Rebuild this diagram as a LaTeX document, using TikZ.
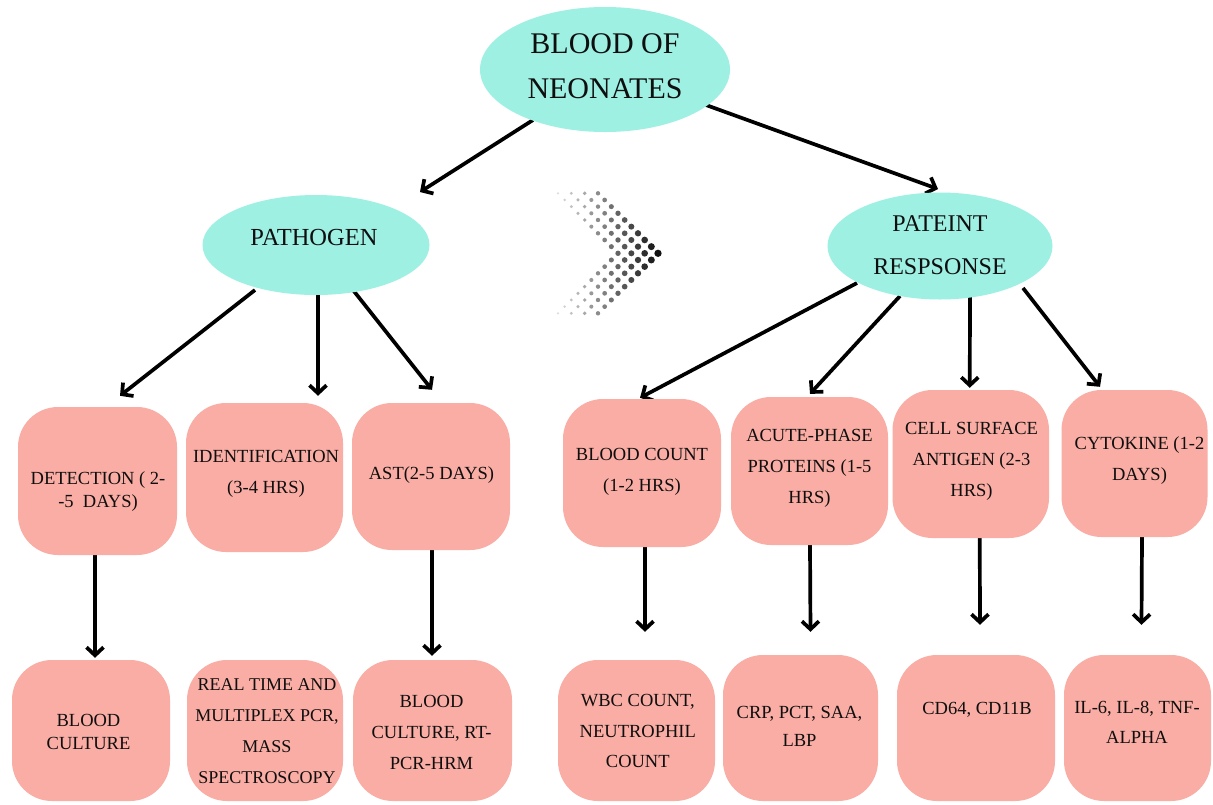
\documentclass[tikz,border=0pt]{standalone}
\usepackage{fontspec}
\setmainfont{Liberation Serif}
\usetikzlibrary{shapes.geometric,arrows.meta}
\definecolor{cyanfill}{RGB}{158,240,227}
\definecolor{pinkfill}{RGB}{249,173,164}
\definecolor{txtcol}{RGB}{15,15,15}
\pgfdeclarelayer{bgfill}
\pgfdeclarelayer{background}
\pgfsetlayers{bgfill,background,main}
\tikzset{
  ell/.style={ellipse, fill=cyanfill, draw=none, inner sep=0pt},
  rbox/.style={rectangle, fill=pinkfill, draw=none, rounded corners=40pt, inner sep=0pt},
  lbl/.style={align=center, text=txtcol, inner sep=0pt, font=\fontsize{18.5}{31}\selectfont},
  arr/.style={line width=3.7pt, draw=black, -{Straight Barb[length=8pt,width=17pt]}},
}
\begin{document}
\begin{tikzpicture}[x=1pt,y=-1pt]
\begin{pgfonlayer}{bgfill}
\fill[white] (0,0) rectangle (1213,804);
\end{pgfonlayer}
\path[use as bounding box] (0,0) rectangle (1213,804);

% ellipses
\node[ell, minimum width=250pt, minimum height=125pt] (top) at (605,69.5) {};
\node[lbl, font=\fontsize{30}{45}\selectfont] (top-t) at (605,66.5) {BLOOD OF\\NEONATES};
\node[ell, minimum width=227pt, minimum height=100pt] (path) at (316,245) {};
\node[lbl, font=\fontsize{24.5}{30}\selectfont] (path-t) at (314,237.5) {PATHOGEN};
\node[ell, minimum width=225pt, minimum height=107pt] (pat) at (940,246) {};
\node[lbl, font=\fontsize{24}{43}\selectfont] (pat-t) at (940,245) {PATEINT\\RESPSONSE};

% first row boxes
\node[rbox, minimum width=159pt, minimum height=148pt] (det) at (97.5,481) {};
\node[lbl, font=\fontsize{18.5}{23}\selectfont] (det-t) at (98,491.5) {DETECTION ( 2-\\-5\ \ DAYS)};
\node[rbox, minimum width=157pt, minimum height=149pt] (ide) at (264.5,477.5) {};
\node[lbl] (ide-t) at (266,474) {IDENTIFICATION\\(3-4 HRS)};
\node[rbox, minimum width=158pt, minimum height=147pt] (ast) at (431,476.5) {};
\node[lbl] (ast-t) at (431.5,475) {AST(2-5 DAYS)};
\node[rbox, minimum width=158pt, minimum height=148pt] (bc) at (642,473) {};
\node[lbl] (bc-t) at (642,472) {BLOOD COUNT\\(1-2 HRS)};
\node[rbox, minimum width=157pt, minimum height=148pt] (acu) at (809.5,471) {};
\node[lbl] (acu-t) at (809.5,468.5) {ACUTE-PHASE\\PROTEINS (1-5\\HRS)};
\node[rbox, minimum width=156.5pt, minimum height=148pt] (cell) at (970.75,464) {};
\node[lbl] (cell-t) at (971.5,461.5) {CELL SURFACE\\ANTIGEN (2-3\\HRS)};
\node[rbox, minimum width=146pt, minimum height=147pt] (cyt) at (1134.5,463.5) {};
\node[lbl] (cyt-t) at (1139.5,461) {CYTOKINE (1-2\\DAYS)};

% second row boxes
\node[rbox, minimum width=158pt, minimum height=141pt] (bcul) at (91,730.5) {};
\node[lbl, font=\fontsize{18.5}{23}\selectfont] (bcul-t) at (88.5,731.5) {BLOOD\\CULTURE};
\node[rbox, minimum width=156pt, minimum height=141pt] (rt) at (265,730.5) {};
\node[lbl, font=\fontsize{18}{31}\selectfont] (rt-t) at (267,731) {REAL TIME AND\\MULTIPLEX PCR,\\MASS\\SPECTROSCOPY};
\node[rbox, minimum width=159pt, minimum height=141pt] (bcr) at (432.5,730.5) {};
\node[lbl] (bcr-t) at (431.5,732) {BLOOD\\CULTURE, RT-\\PCR-HRM};
\node[rbox, minimum width=157pt, minimum height=141pt] (wbc) at (636.5,730.5) {};
\node[lbl, font=\fontsize{18.5}{30.5}\selectfont] (wbc-t) at (637.8,731) {WBC COUNT,\\NEUTROPHIL\\COUNT};
\node[rbox, minimum width=155pt, minimum height=146pt] (crp) at (800.5,728) {};
\node[lbl, font=\fontsize{18.5}{28}\selectfont] (crp-t) at (799.5,726) {CRP, PCT, SAA,\\LBP};
\node[rbox, minimum width=158pt, minimum height=146pt] (cd64) at (976,728) {};
\node[lbl] (cd64-t) at (977,710) {CD64, CD11B};
\node[rbox, minimum width=147pt, minimum height=146pt] (il6) at (1137.5,728) {};
\node[lbl, font=\fontsize{18.5}{30}\selectfont] (il6-t) at (1137,722) {IL-6, IL-8, TNF-\\ALPHA};

% dotted chevron
\foreach \k in {-9,...,9} {
  \foreach \j in {0,...,3} {
    \pgfmathsetmacro\xx{558+(9-abs(\k))*6.667+\j*13.333}
    \pgfmathsetmacro\yy{253.3+\k*6.667}
    \pgfmathsetmacro\tt{(\xx-556)/104}
    \pgfmathsetmacro\rr{1.2+2.5*\tt}
    \pgfmathtruncatemacro\pp{12+83*\tt}
    \fill[black!\pp] (\xx,\yy) circle[radius=\rr pt];
  }
}

% arrows
\begin{pgfonlayer}{background}
\draw[arr] ([shift={(-72,50.5)}]top.center) -- ([shift={(104,-53)}]path.center);
\draw[arr] ([shift={(101,35.5)}]top.center) -- ([shift={(-2,-57)}]pat.center);
\draw[arr] ([shift={(-61,45)}]path.center) -- ([shift={(22.5,-11)}]det.north);
\draw[arr] ([shift={(2,49)}]path.center) -- ([shift={(53.5,-7)}]ide.north);
\draw[arr] ([shift={(37,45)}]path.center) -- ([shift={(1,-13)}]ast.north);
\draw[arr] ([shift={(-83,37)}]pat.center) -- ([shift={(-2,-1)}]bc.north);
\draw[arr] ([shift={(-40,50)}]pat.center) -- ([shift={(0.5,-3)}]acu.north);
\draw[arr] ([shift={(30,50)}]pat.center) -- ([shift={(-1,-2)}]cell.north);
\draw[arr] ([shift={(83,42)}]pat.center) -- ([shift={(-34.5,-3)}]cyt.north);
\draw[arr] ([shift={(-2.5,0)}]det.south) -- ([shift={(4,-2)}]bcul.north);
\draw[arr] ([shift={(1,0)}]ast.south) -- ([shift={(-0.5,-4)}]bcr.north);
\draw[arr] ([shift={(3,0)}]bc.south) -- ([shift={(8.5,-28)}]wbc.north);
\draw[arr] ([shift={(0.5,0)}]acu.south) -- ([shift={(10,-23)}]crp.north);
\draw[arr] ([shift={(9,0)}]cell.south) -- ([shift={(4,-30)}]cd64.north);
\draw[arr] ([shift={(7.5,0)}]cyt.south) -- ([shift={(4,-30)}]il6.north);
\end{pgfonlayer}
\end{tikzpicture}
\end{document}
